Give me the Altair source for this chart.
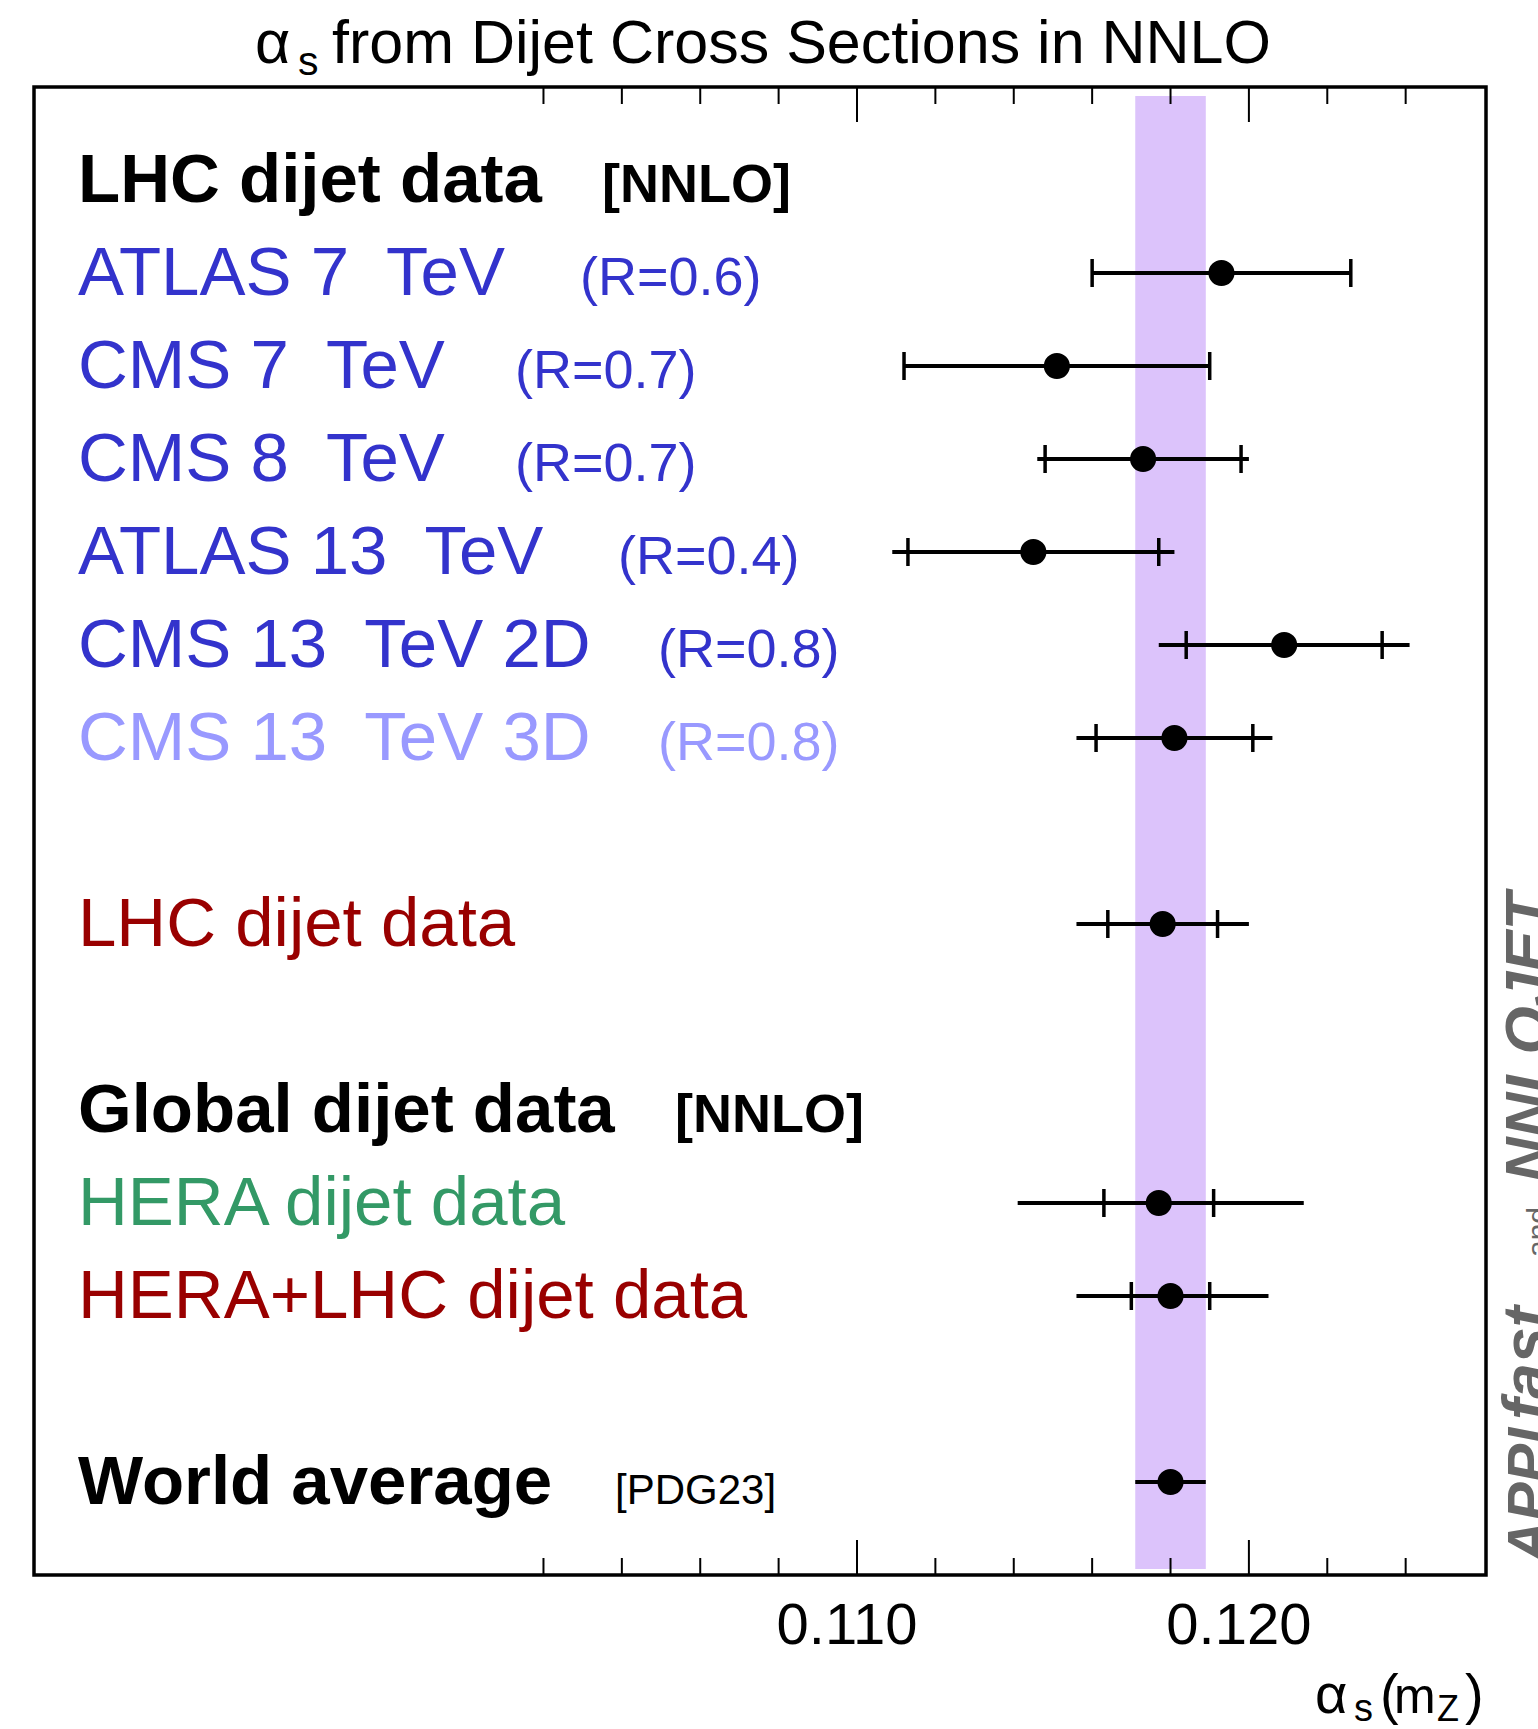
import altair as alt
import pandas as pd

# ---------------- data ----------------
# row index (0 = top row of the legend list)
pt_rows   = [1, 2, 3, 4, 5, 6, 8, 11, 12, 14]
pt_center = [0.1193, 0.1151, 0.1173, 0.1145, 0.1209, 0.1181, 0.1178, 0.1177, 0.1180, 0.1180]
pt_lo     = [0.1160, 0.1112, 0.1146, 0.1109, 0.1177, 0.1156, 0.1156, 0.1141, 0.1156, 0.1171]
pt_hi     = [0.1226, 0.1190, 0.1200, 0.1181, 0.1241, 0.1206, 0.1200, 0.1214, 0.1205, 0.1189]
tick_lo   = [0.1160, 0.1112, 0.1148, 0.1113, 0.1184, 0.1161, 0.1164, 0.1163, 0.1170, None]
tick_hi   = [0.1226, 0.1190, 0.1198, 0.1177, 0.1234, 0.1201, 0.1192, 0.1191, 0.1190, None]

band_lo, band_hi = 0.1171, 0.1189   # world average band (PDG23)

NB = "\u00a0"
label_rows = [0, 1, 2, 3, 4, 5, 6, 8, 10, 11, 12, 14]
label_text = ["LHC dijet data", f"ATLAS 7{NB} TeV", f"CMS 7{NB} TeV", f"CMS 8{NB} TeV",
              f"ATLAS 13{NB} TeV", f"CMS 13{NB} TeV 2D", f"CMS 13{NB} TeV 3D", "LHC dijet data",
              "Global dijet data", "HERA dijet data", "HERA+LHC dijet data", "World average"]
label_suffix = ["[NNLO]", "(R=0.6)", "(R=0.7)", "(R=0.7)", "(R=0.4)", "(R=0.8)", "(R=0.8)",
                "", "[NNLO]", "", "", "[PDG23]"]

major_ticks = [0.110, 0.120]
major_labels = ["0.110", "0.120"]
minor_ticks = [0.102, 0.104, 0.106, 0.108, 0.112, 0.114, 0.116, 0.118, 0.122, 0.124]

# ---------------- styles ----------------
BLUE, LIGHT, RED, GREEN = "#3333cc", "#9999ff", "#990000", "#339966"
label_color = ["black", BLUE, BLUE, BLUE, BLUE, BLUE, LIGHT, RED, "black", GREEN, RED, "black"]
label_bold = [True, False, False, False, False, False, False, False, True, False, False, True]
suffix_px = [568, 546, 481, 481, 584, 624, 624, 0, 641, 0, 0, 581]
suffix_size = [54, 54, 54, 54, 54, 54, 54, 0, 54, 0, 0, 42]
suffix_bold = [True, False, False, False, False, False, False, False, True, False, False, False]

W, H = 1452, 1488
FONT = "Liberation Sans"
BAND = "#dcc3fb"

xscale = alt.Scale(domain=[0.08900, 0.12605], nice=False, zero=False)
yscale = alt.Scale(domain=[-1, 15], reverse=True, nice=False, zero=False)


def X(f):
    return alt.X(f, type="quantitative", scale=xscale, axis=None)


def Y(f):
    return alt.Y(f, type="quantitative", scale=yscale, axis=None)


layers = []

# band
band_df = pd.DataFrame({"lo": [band_lo], "hi": [band_hi]})
layers.append(alt.Chart(band_df).mark_rect(color=BAND).encode(
    x=X("lo"), x2="hi", y=alt.value(9), y2=alt.value(H - 6)))

# axis ticks (inside the frame, top and bottom)
maj_df = pd.DataFrame({"v": major_ticks, "t": major_labels})
min_df = pd.DataFrame({"v": minor_ticks})
for df, ln in ((maj_df, 35), (min_df, 17)):
    layers.append(alt.Chart(df).mark_rule(color="black", strokeWidth=2).encode(
        x=X("v"), y=alt.value(0), y2=alt.value(ln)))
    layers.append(alt.Chart(df).mark_rule(color="black", strokeWidth=2).encode(
        x=X("v"), y=alt.value(H), y2=alt.value(H - ln)))
layers.append(alt.Chart(maj_df).mark_text(
    font=FONT, fontSize=58, align="center", baseline="alphabetic", dx=-10, color="black"
).encode(x=X("v"), y=alt.value(H + 69), text="t:N"))

# error bars
pts = pd.DataFrame({"row": pt_rows, "c": pt_center, "lo": pt_lo, "hi": pt_hi})
layers.append(alt.Chart(pts).mark_rule(color="black", strokeWidth=4).encode(
    x=X("lo"), x2="hi", y=Y("row")))
tk_rows, tk_vals = [], []
for r, a, b in zip(pt_rows, tick_lo, tick_hi):
    if a is not None:
        tk_rows += [r, r]
        tk_vals += [a, b]
tks = pd.DataFrame({"row": tk_rows, "v": tk_vals})
layers.append(alt.Chart(tks).mark_tick(orient="vertical", size=28, thickness=3.5,
                                       color="black", opacity=1).encode(
    x=X("v"), y=Y("row")))
layers.append(alt.Chart(pts).mark_circle(size=680, color="black", opacity=1).encode(
    x=X("c"), y=Y("row")))

# row labels
for i, r in enumerate(label_rows):
    df = pd.DataFrame({"row": [r], "t": [label_text[i]]})
    layers.append(alt.Chart(df).mark_text(
        font=FONT, fontSize=69, fontWeight="bold" if label_bold[i] else "normal",
        align="left", baseline="alphabetic", dy=22, color=label_color[i]
    ).encode(x=alt.value(44), y=Y("row"), text="t:N"))
    if label_suffix[i]:
        df2 = pd.DataFrame({"row": [r], "t": [label_suffix[i]]})
        layers.append(alt.Chart(df2).mark_text(
            font=FONT, fontSize=suffix_size[i],
            fontWeight="bold" if suffix_bold[i] else "normal",
            align="left", baseline="alphabetic", dy=22, color=label_color[i]
        ).encode(x=alt.value(suffix_px[i]), y=Y("row"), text="t:N"))


def txt(s, x, y, size, weight="normal", style="normal", color="black", angle=0):
    return alt.Chart(pd.DataFrame({"t": [s]})).mark_text(
        font=FONT, fontSize=size, fontWeight=weight, fontStyle=style, color=color,
        align="left", baseline="alphabetic", angle=angle
    ).encode(x=alt.value(x), y=alt.value(y), text="t:N")


# title
layers.append(txt("α", 221, -24, 61))
layers.append(txt("s", 264, -12, 41))
layers.append(txt("from Dijet Cross Sections in NNLO", 298, -24, 61))

# x-axis title
layers.append(txt("α", 1281, 1626, 56))
layers.append(txt("s", 1320, 1634, 38))
layers.append(txt("(", 1346, 1626, 56))
layers.append(txt("m", 1360, 1626, 50))
layers.append(txt("Z", 1403, 1634, 36))
layers.append(txt(")", 1431, 1626, 56))

# vertical tag on the right
GRAY = "#666666"
layers.append(txt("APPL", 1514, 1476, 58, "bold", "italic", GRAY, 270))
layers.append(txt("fast", 1514, 1333, 64, "bold", "italic", GRAY, 270))
layers.append(txt("and", 1514, 1170, 30, "normal", "normal", GRAY, 270))
layers.append(txt("NNLOJET", 1514, 1095, 62, "bold", "italic", GRAY, 270))

chart = alt.layer(*layers).properties(
    width=W, height=H,
    autosize=alt.AutoSizeParams(type="none"),
    padding={"left": 34, "top": 87, "right": 52, "bottom": 154},
).configure_view(stroke="black", strokeWidth=3.5)

chart.save("out.html", embed_options={"renderer": "svg", "actions": False})
